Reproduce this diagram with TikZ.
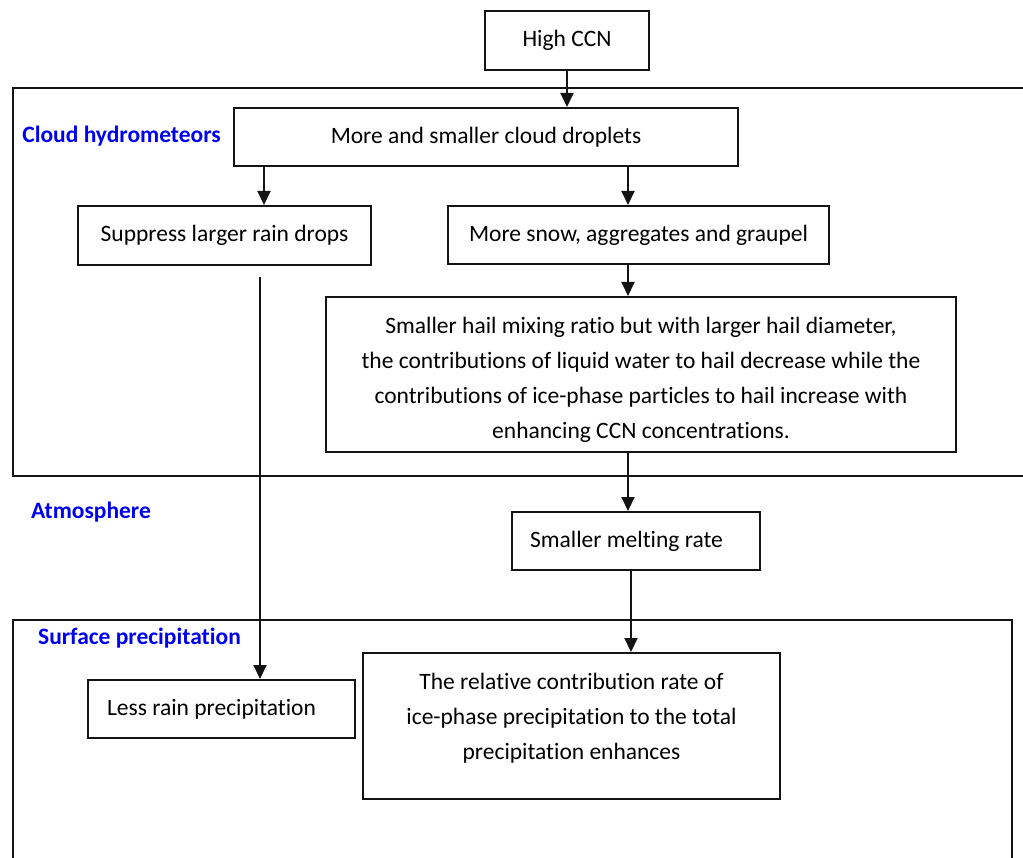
\documentclass[tikz,border=0pt]{standalone}
\usepackage{fontspec}
\setmainfont{Carlito}[Ligatures={NoCommon}]
\usepackage{tikz}
\usetikzlibrary{arrows.meta, positioning, calc}
\usepackage{xcolor}
\definecolor{lblBlue}{RGB}{0,0,240}
\definecolor{lineGray}{RGB}{20,20,20}

\begin{document}
\begin{tikzpicture}[
  x=1pt, y=-1pt,
  box/.style={rectangle, draw=lineGray, line width=2pt, fill=white,
              inner sep=0pt, minimum width=#1, align=center,
              font=\fontsize{23.5}{35}\selectfont},
  zone/.style={lineGray, line width=2pt},
  tag/.style={font=\fontsize{23.5}{28}\selectfont\bfseries, text=lblBlue},
  arr/.style={-{Triangle[length=14pt, width=13pt]}, line width=2pt, lineGray}
]
  \useasboundingbox (0,0) rectangle (1023,858);

  \draw[zone] (1030,88) -- (13,88) -- (13,476) -- (1030,476);
  \draw[zone] (13,865) -- (13,620) -- (1012,620) -- (1012,865);

  \node[tag] (cloudTag) at (121.5,136) {Cloud hydrometeors};
  \node[tag] (atmTag)   at (91,512)    {Atmosphere};
  \node[tag] (sfcTag)   at (139.5,638) {Surface precipitation};

  \node[box=164pt, minimum height=59pt] (ccn)  at (567,40.5) {High CCN};
  \node[box=504pt, minimum height=58pt] (drop) at (486,137)
    {More and smaller cloud droplets};
  \node[box=293pt, minimum height=59pt] (supp) at (224.5,235.5)
    {Suppress larger rain drops};
  \node[box=381pt, minimum height=58pt] (snow) at (638.5,235)
    {More snow, aggregates and graupel};
  \node[box=630pt, minimum height=155pt] (hail) at (641,374.5)
    {\rule{0pt}{28pt}Smaller hail mixing ratio but with larger hail diameter,\\
     the contributions of liquid water to hail decrease while the\\
     contributions of ice-phase particles to hail increase with\\
     enhancing CCN concentrations.};
  \node[box=248pt, minimum height=58pt] (melt) at (636,541)
    {Smaller melting rate\hspace{19pt}};
  \node[box=267pt, minimum height=58pt] (less) at (221.5,709)
    {Less rain precipitation\hspace{20pt}};
  \node[box=417pt, minimum height=146pt] (ice) at (571.5,726)
    {The relative contribution rate of\\
     ice-phase precipitation to the total\\
     precipitation enhances\\[-16pt]\mbox{}};

  \draw[arr] (ccn.south) -- (ccn.south |- drop.north);
  \draw[arr] ([xshift=39.5]supp.north |- drop.south) -- ([xshift=39.5]supp.north);
  \draw[arr] ([xshift=-10.5]snow.north |- drop.south) -- ([xshift=-10.5]snow.north);
  \draw[arr] ([xshift=-10.5]snow.south) -- ([xshift=-10.5]snow.south |- hail.north);
  \draw[arr] ([xshift=-13]hail.south) -- ([xshift=-13]hail.south |- melt.north);
  \draw[arr] ([xshift=-5]melt.south) -- ([xshift=-5]melt.south |- ice.north);

  \coordinate (rainTop) at ([xshift=35.5, yshift=-11]supp.south);
  \draw[arr] (rainTop) -- (rainTop |- less.north);
\end{tikzpicture}
\end{document}
